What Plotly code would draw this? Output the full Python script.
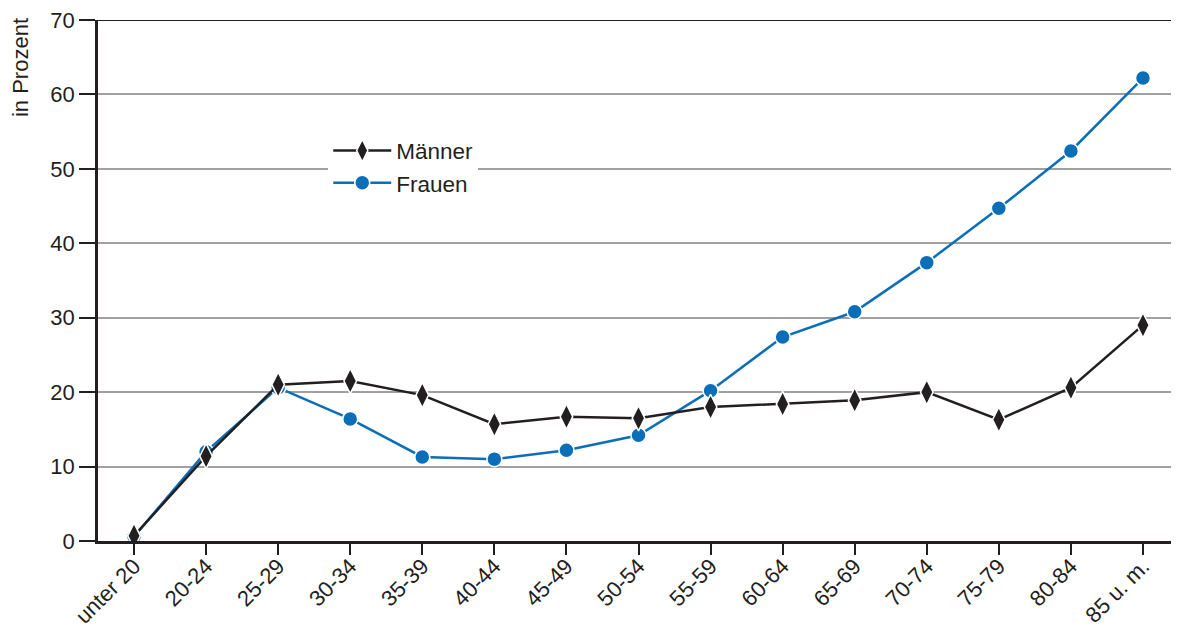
import plotly.graph_objects as go

categories = ["unter 20", "20-24", "25-29", "30-34", "35-39", "40-44", "45-49", "50-54",
              "55-59", "60-64", "65-69", "70-74", "75-79", "80-84", "85 u. m."]
maenner = [0.7, 11.4, 21.0, 21.5, 19.6, 15.7, 16.7, 16.5, 18.0, 18.4, 18.9, 20.0, 16.3, 20.6, 29.0]
frauen = [0.6, 12.0, 20.6, 16.4, 11.3, 11.0, 12.2, 14.2, 20.2, 27.4, 30.8, 37.4, 44.7, 52.4, 62.2]

BLUE = "#0a6eb8"
DARK = "#231f20"
FONT = "Liberation Sans, Arial, sans-serif"

fig = go.Figure()
fig.add_trace(go.Scatter(
    x=categories, y=frauen, name="Frauen", mode="lines+markers",
    line=dict(color=BLUE, width=2.5),
    marker=dict(symbol="circle", size=15, color=BLUE, line=dict(color="white", width=1.5)),
    legendrank=2,
))
fig.add_trace(go.Scatter(
    x=categories, y=maenner, name="Männer", mode="lines+markers",
    line=dict(color=DARK, width=2.5),
    marker=dict(symbol="diamond-tall", size=18, color=DARK, line=dict(color="white", width=1.5)),
    legendrank=1,
))

fig.update_layout(
    width=1171, height=620,
    margin=dict(l=90, r=0, t=12, b=87, autoexpand=False),
    paper_bgcolor="white", plot_bgcolor="white",
    font=dict(family=FONT, size=22, color=DARK),
    showlegend=True,
    legend=dict(x=0.213, y=0.79, xanchor="left", yanchor="top",
                bgcolor="white", font=dict(size=22.5, color=DARK),
                itemwidth=58, tracegroupgap=0),
    xaxis=dict(
        type="category", range=[-0.5, 14.5], automargin=False,
        showline=True, linecolor=DARK, linewidth=2.5,
        ticks="outside", ticklen=11, tickwidth=2, tickcolor=DARK,
        tickangle=-45, showgrid=False, zeroline=False,
        ticklabelstandoff=-10, ticklabeloverflow="allow",
        tickfont=dict(size=22, color=DARK),
    ),
    yaxis=dict(
        range=[0, 70], dtick=10, tick0=0, automargin=False,
        showline=True, linecolor=DARK, linewidth=2.5,
        ticks="outside", ticklen=16, tickwidth=2, tickcolor=DARK,
        showgrid=True, gridcolor="#a0a0a0", gridwidth=1.5,
        zeroline=False, ticklabeloverflow="allow",
        tickfont=dict(size=22, color=DARK),
    ),
    shapes=[dict(type="line", xref="paper", yref="y", x0=0, x1=1, y0=70, y1=70,
                 line=dict(color=DARK, width=2))],
    annotations=[dict(text="in Prozent", xref="paper", yref="paper", x=-0.0715, y=1.008,
                      xanchor="center", yanchor="top", textangle=-90, showarrow=False,
                      font=dict(size=22, color=DARK))],
)

fig.write_html("out.html")
